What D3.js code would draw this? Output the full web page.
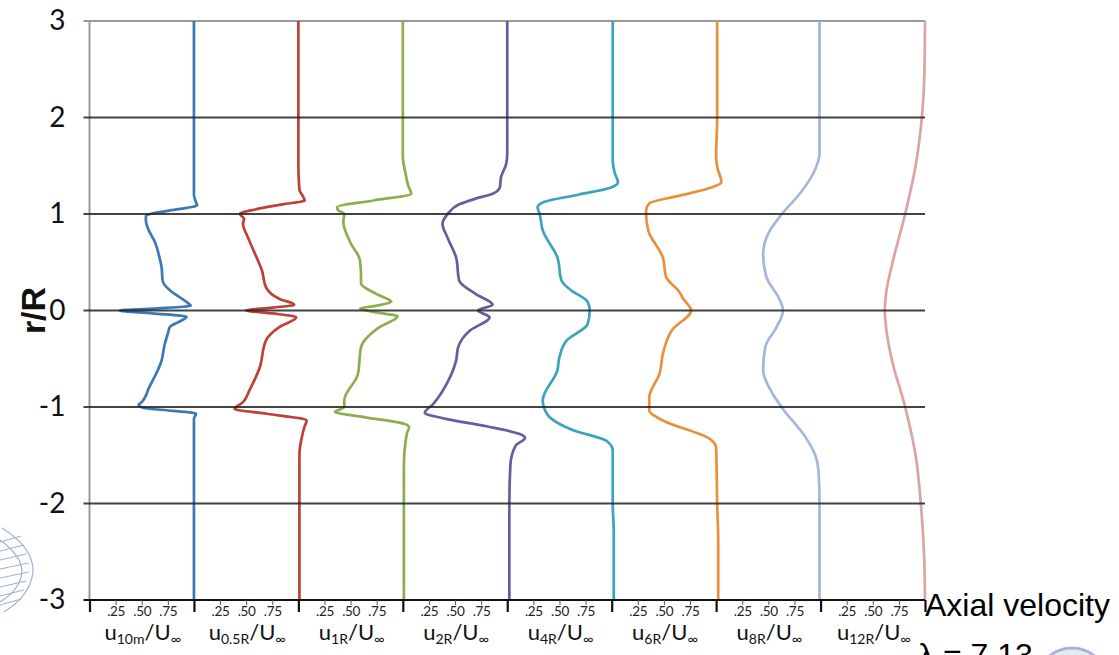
<!DOCTYPE html>
<html>
<head>
<meta charset="utf-8">
<script src="https://cdn.jsdelivr.net/npm/d3@7"></script>
<style>
  html, body { margin: 0; padding: 0; background: #fff; overflow: hidden; }
  svg { display: block; }
</style>
</head>
<body>
<svg id="chart" width="1119" height="655"></svg>
<script>
// Wake stations downstream of the rotor (subscript of each u/U∞ label)
const stations = ["10m", "0.5R", "1R", "2R", "4R", "6R", "8R", "12R"];

// Radial position r/R ticks
const rTicks = [3, 2, 1, 0, -1, -2, -3];

// Velocity ticks inside each station panel
const uTicks = [0.25, 0.5, 0.75];
const uTickLabels = [".25", ".50", ".75"];

// Profiles: [r/R, u/U∞]
const u10m = [[3, 1.0], [1.5, 1.0], [1.2, 1.0], [1.12, 1.02], [1.09, 1.03], [1.05, 0.85], [1.01, 0.62], [0.98, 0.54],
  [0.93, 0.54], [0.85, 0.56], [0.7, 0.63], [0.55, 0.67], [0.45, 0.69], [0.31, 0.70], [0.2, 0.78], [0.14, 0.86],
  [0.07, 0.95], [0.05, 0.97], [0.02, 0.6], [0.0, 0.29], [-0.03, 0.6], [-0.065, 0.93], [-0.12, 0.85], [-0.17, 0.77],
  [-0.24, 0.75], [-0.35, 0.72], [-0.52, 0.69], [-0.8, 0.57], [-0.95, 0.5], [-0.98, 0.47], [-1.01, 0.52],
  [-1.04, 0.8], [-1.07, 1.02], [-1.12, 1.0], [-1.5, 1.0], [-3, 1.0]];
const u05R = [[3, 1.0], [1.5, 1.0], [1.25, 1.01], [1.19, 1.04], [1.14, 1.06], [1.1, 0.85], [1.05, 0.6], [1.0, 0.44],
  [0.95, 0.48], [0.9, 0.47], [0.75, 0.52], [0.55, 0.6], [0.42, 0.65], [0.24, 0.69], [0.12, 0.82], [0.06, 0.96],
  [0.03, 0.75], [0.0, 0.5], [-0.03, 0.75], [-0.07, 0.98], [-0.17, 0.82], [-0.31, 0.69], [-0.59, 0.63],
  [-0.83, 0.53], [-0.95, 0.47], [-1.02, 0.39], [-1.07, 0.7], [-1.14, 1.08], [-1.2, 1.06], [-1.28, 1.04],
  [-1.5, 1.01], [-3, 1.01]];
const u1R = [[3, 1.0], [2, 1.0], [1.6, 1.0], [1.4, 1.03], [1.3, 1.05], [1.21, 1.08], [1.14, 0.72], [1.07, 0.37],
  [1.04, 0.38], [1.0, 0.44], [0.92, 0.43], [0.7, 0.5], [0.52, 0.59], [0.35, 0.6], [0.28, 0.6], [0.17, 0.75],
  [0.09, 0.89], [0.05, 0.75], [0.02, 0.59], [-0.02, 0.75], [-0.06, 0.95], [-0.17, 0.78], [-0.38, 0.6],
  [-0.66, 0.57], [-0.93, 0.44], [-1.0, 0.44], [-1.05, 0.35], [-1.1, 0.6], [-1.18, 1.03], [-1.21, 1.06],
  [-1.27, 1.04], [-1.33, 1.03], [-1.6, 1.01], [-3, 1.01]];
const u2R = [[3, 1.0], [2, 1.0], [1.63, 1.0], [1.52, 0.99], [1.38, 0.94], [1.28, 0.93], [1.21, 0.86], [1.16, 0.7],
  [1.1, 0.54], [1.0, 0.43], [0.9, 0.38], [0.75, 0.43], [0.55, 0.51], [0.31, 0.54], [0.17, 0.70], [0.06, 0.86],
  [0.0, 0.72], [-0.07, 0.83], [-0.21, 0.64], [-0.38, 0.53], [-0.52, 0.51], [-0.76, 0.42], [-0.97, 0.29],
  [-1.06, 0.21], [-1.12, 0.4], [-1.2, 0.8], [-1.28, 1.12], [-1.32, 1.17], [-1.4, 1.08], [-1.6, 1.03],
  [-2, 1.02], [-3, 1.02]];
const u4R = [[3, 1.01], [2, 1.01], [1.56, 1.01], [1.42, 1.03], [1.33, 1.06], [1.27, 0.98], [1.2, 0.68], [1.12, 0.34],
  [1.07, 0.29], [1.0, 0.31], [0.83, 0.34], [0.55, 0.48], [0.31, 0.52], [0.21, 0.61], [0.09, 0.77], [0.0, 0.79],
  [-0.14, 0.77], [-0.31, 0.57], [-0.48, 0.5], [-0.62, 0.48], [-0.93, 0.34], [-1.07, 0.38], [-1.24, 0.63],
  [-1.35, 0.95], [-1.45, 1.01], [-2.0, 1.01], [-2.3, 1.02], [-3, 1.02]];
const u6R = [[3, 1.01], [2, 1.01], [1.59, 1.0], [1.49, 1.01], [1.33, 1.05], [1.28, 0.97], [1.19, 0.65], [1.11, 0.36],
  [1.04, 0.33], [1.0, 0.33], [0.83, 0.35], [0.55, 0.49], [0.35, 0.52], [0.19, 0.65], [0.13, 0.68], [0.0, 0.76],
  [-0.2, 0.58], [-0.45, 0.49], [-0.65, 0.46], [-0.9, 0.36], [-1.04, 0.36], [-1.14, 0.49], [-1.33, 0.94],
  [-1.42, 1.0], [-2.0, 1.01], [-2.4, 1.02], [-3, 1.02]];
const u8R = [[3, 0.99], [2, 0.99], [1.63, 0.99], [1.42, 0.93], [1.21, 0.8], [1.0, 0.63], [0.8, 0.5], [0.59, 0.45],
  [0.35, 0.48], [0.11, 0.61], [0.0, 0.64], [-0.17, 0.58], [-0.38, 0.47], [-0.62, 0.45], [-0.86, 0.54],
  [-1.02, 0.64], [-1.32, 0.86], [-1.5, 0.95], [-1.66, 0.98], [-2, 0.99], [-3, 0.99]];
const u12R = [[3, 1.0], [2.5, 0.995], [2, 0.97], [1.5, 0.91], [1.0, 0.81], [0.5, 0.69], [0.2, 0.63], [0.0, 0.615],
  [-0.2, 0.63], [-0.5, 0.68], [-1.0, 0.81], [-1.5, 0.91], [-2, 0.96], [-2.5, 0.99], [-3, 1.0]];

const profiles = [u10m, u05R, u1R, u2R, u4R, u6R, u8R, u12R];
const colors = ["#3b79b6", "#bf3f3a", "#8cae4c", "#6c5a9e", "#3aa4be", "#e9903c", "#a3b7da", "#dca3a3"];

const svg = d3.select("#chart");
const plotLeft = 89.5, plotRight = 925, plotTop = 21, plotBottom = 600;

// One panel of width 1 (u/U∞ from 0 to 1) per station
const x = d3.scaleLinear().domain([0, stations.length]).range([plotLeft, plotRight]);
const y = d3.scaleLinear().domain([-3, 3]).range([plotBottom, plotTop]);

// Frame: grey top edge and left axis
svg.append("line").attr("x1", plotLeft - 6).attr("x2", plotRight).attr("y1", y(3)).attr("y2", y(3))
  .attr("stroke", "#9a9a9a").attr("stroke-width", 2);
svg.append("line").attr("x1", plotLeft).attr("x2", plotLeft).attr("y1", y(3)).attr("y2", y(-3))
  .attr("stroke", "#9a9a9a").attr("stroke-width", 2);

// Velocity profiles
const line = d3.line()
  .x(d => d[2])
  .y(d => y(d[0]))
  .curve(d3.curveMonotoneY);

profiles.forEach((p, i) => {
  const pts = p.map(d => [d[0], d[1], x(i + d[1])]);
  svg.append("path")
    .attr("d", line(pts))
    .attr("fill", "none")
    .attr("stroke", colors[i])
    .attr("stroke-width", 2.7)
    .attr("stroke-linejoin", "round");
});

// Horizontal gridlines at interior r/R ticks
svg.append("g")
  .selectAll("line")
  .data(rTicks.filter(t => t !== 3 && t !== -3))
  .join("line")
  .attr("x1", plotLeft - 6).attr("x2", plotRight)
  .attr("y1", d => y(d)).attr("y2", d => y(d))
  .attr("stroke", "#222").attr("stroke-opacity", 0.85).attr("stroke-width", 1.8);

// r/R tick labels
const yAxis = svg.append("g")
  .attr("transform", `translate(${plotLeft},0)`)
  .call(d3.axisLeft(y).tickValues(rTicks).tickSize(0).tickPadding(24).tickFormat(d => String(d)));
yAxis.select(".domain").remove();
yAxis.selectAll("text")
  .attr("font-family", "Lato, 'Open Sans', sans-serif")
  .attr("font-size", 28)
  .attr("fill", "#111");

// Bottom axis: station boundaries (major) and u/U∞ ticks (minor)
const majorAxis = svg.append("g")
  .attr("transform", `translate(0,${plotBottom})`)
  .call(d3.axisBottom(x).tickValues(d3.range(stations.length + 1)).tickSize(12).tickFormat(""));
majorAxis.select(".domain").attr("stroke", "#111").attr("stroke-width", 2.2)
  .attr("d", `M${plotLeft - 6},0H${plotRight}`);
majorAxis.selectAll(".tick line").attr("stroke", "#111").attr("stroke-width", 2.2);

const minorVals = [];
stations.forEach((s, i) => uTicks.forEach(t => minorVals.push(i + t)));
const minorAxis = svg.append("g")
  .attr("transform", `translate(0,${plotBottom})`)
  .call(d3.axisBottom(x).tickValues(minorVals).tickSize(5).tickPadding(1)
    .tickFormat(d => uTickLabels[uTicks.indexOf(Math.round((d % 1) * 100) / 100)]));
minorAxis.select(".domain").remove();
minorAxis.selectAll(".tick line").attr("stroke", "#555").attr("stroke-width", 1);
minorAxis.selectAll("text")
  .attr("font-family", "Lato, 'Open Sans', sans-serif")
  .attr("font-size", 13.5)
  .attr("letter-spacing", -0.3)
  .attr("fill", "#222");

// Station labels u_s / U∞
const labels = svg.append("g")
  .selectAll("text")
  .data(stations)
  .join("text")
  .attr("x", (d, i) => x(i + 0.5) + 1)
  .attr("y", 640)
  .attr("text-anchor", "middle")
  .attr("font-family", "Lato, 'Open Sans', sans-serif")
  .attr("font-size", 22)
  .attr("fill", "#111");
labels.append("tspan").text("u");
labels.append("tspan").attr("font-size", 14).attr("dy", 4).text(d => d);
labels.append("tspan").attr("dy", -4).text("/U");
labels.append("tspan").attr("font-size", 14).attr("dy", 4).text("\u221E");

// r/R axis title
svg.append("text")
  .attr("transform", `translate(45,${y(0)}) rotate(-90)`)
  .attr("text-anchor", "middle")
  .attr("font-family", "'Liberation Sans', Arial, sans-serif")
  .attr("font-weight", "bold")
  .attr("font-size", 34)
  .attr("fill", "#111")
  .text("r/R");

// Caption at lower right
svg.append("text")
  .attr("x", 925).attr("y", 616)
  .attr("font-family", "'Liberation Sans', Arial, sans-serif")
  .attr("font-size", 32)
  .attr("fill", "#000")
  .text("Axial velocity");
svg.append("text")
  .attr("x", 918).attr("y", 666)
  .attr("font-family", "'Liberation Sans', Arial, sans-serif")
  .attr("font-size", 32)
  .attr("fill", "#000")
  .text("\u03BB = 7.13");

// Emblem at lower right corner
svg.append("circle")
  .attr("cx", 1072).attr("cy", 684).attr("r", 36)
  .attr("fill", "#e6eaf2").attr("stroke", "#a9b6cf").attr("stroke-width", 3);

// Turbine sketch at lower left edge
const sketch = svg.append("g").attr("stroke", "#9fb1d8").attr("fill", "none").attr("stroke-width", 1.2);
sketch.append("path").attr("d", "M2,528 Q34,548 33,572 Q30,596 4,612");
sketch.append("path").attr("d", "M0,540 Q22,556 22,572 Q20,590 0,602");
d3.range(8).forEach(k => {
  const yy = 536 + k * 9;
  sketch.append("line").attr("x1", 0).attr("y1", yy + 6).attr("x2", 30 - Math.abs(k - 3.5) * 2.5).attr("y2", yy);
});
</script>
</body>
</html>
